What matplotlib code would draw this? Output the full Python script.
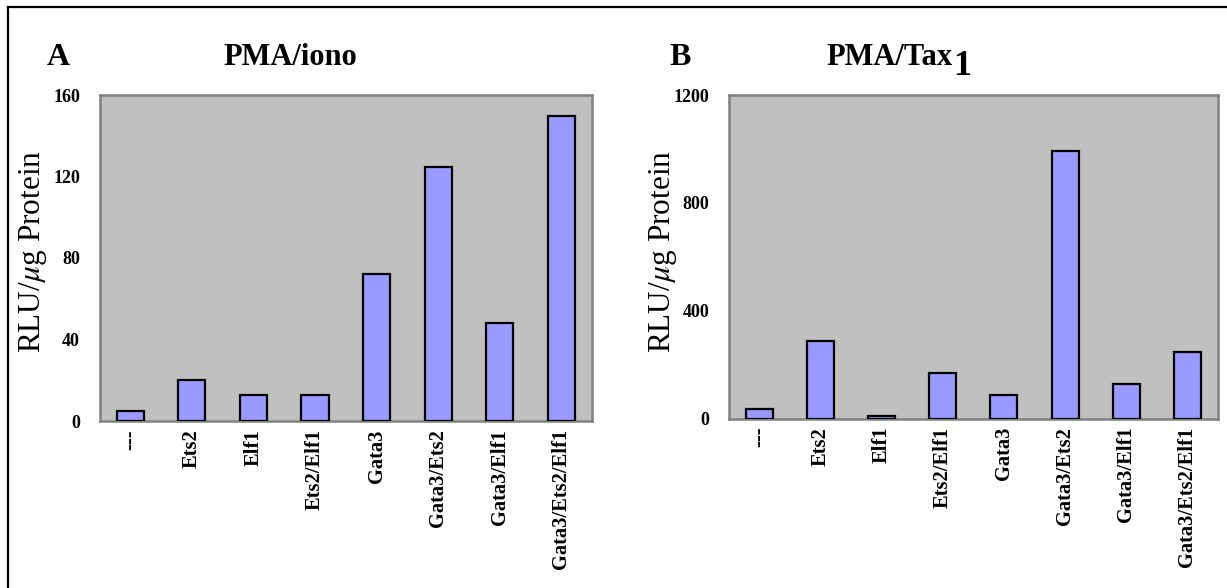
import matplotlib
matplotlib.use("Agg")
import matplotlib.pyplot as plt
from matplotlib.lines import Line2D
import numpy as np

plt.rcParams['font.family'] = ['Liberation Serif', 'DejaVu Serif']
plt.rcParams['mathtext.fontset'] = 'stix'

# data
categories = ['---', 'Ets2', 'Elf1', 'Ets2/Elf1', 'Gata3',
              'Gata3/Ets2', 'Gata3/Elf1', 'Gata3/Ets2/Elf1']
iono_values = [5, 20, 13, 13, 72, 124.5, 48, 149.5]
tax_values = [37, 287, 10, 167, 89, 993, 129, 245]
iono_ticks = [0, 40, 80, 120, 160]
tax_ticks = [0, 400, 800, 1200]

W, H = 1227, 588
fig = plt.figure(figsize=(W / 100, H / 100), dpi=100)
fig.patch.set_facecolor('white')


def px_axes(x0, x1, y0, y1):
    # axes from pixel box (top-left origin)
    return fig.add_axes([x0 / W, 1 - y1 / H, (x1 - x0) / W, (y1 - y0) / H])


def draw_panel(ax, values, ticks):
    x = np.arange(len(categories))
    ax.set_facecolor('#c0c0c0')
    ax.bar(x, values, width=0.44, color='#9999ff', edgecolor='black', linewidth=1.6, zorder=3)
    ax.set_xlim(-0.5, len(categories) - 0.5)
    ax.set_ylim(ticks[0], ticks[-1])
    ax.set_yticks(ticks)
    ax.set_yticklabels([str(t) for t in ticks], fontsize=13, fontweight='bold')
    ax.set_xticks(x)
    ax.set_xticklabels(categories, rotation=90, fontsize=14.8, fontweight='bold')
    ax.tick_params(axis='y', length=0, pad=14)
    ax.tick_params(axis='x', length=0, pad=6)
    for s in ax.spines.values():
        s.set_color('#808080')
        s.set_linewidth(1.8)


ax1 = px_axes(99.5, 592, 95, 421)
draw_panel(ax1, iono_values, iono_ticks)

ax2 = px_axes(728.7, 1218, 95, 418.5)
draw_panel(ax2, tax_values, tax_ticks)

# y labels
ylab = r'RLU/$\mu$g Protein'
fig.text(33 / W, 1 - 252 / H, ylab, rotation=90, fontsize=22.5, ha='center', va='center')
fig.text(663 / W, 1 - 252 / H, ylab, rotation=90, fontsize=22.5, ha='center', va='center')

# panel letters and titles
base = 1 - 65 / H
fig.text(47 / W, base, 'A', fontsize=23, fontweight='bold', ha='left', va='baseline')
fig.text(290 / W, base, 'PMA/iono', fontsize=22, fontweight='bold', ha='center', va='baseline')
fig.text(669 / W, base, 'B', fontsize=23, fontweight='bold', ha='left', va='baseline')
fig.text(953 / W, base, 'PMA/Tax', fontsize=22, fontweight='bold', ha='right', va='baseline')
fig.text(953 / W, 1 - 75 / H, '1', fontsize=26, fontweight='bold', ha='left', va='baseline')

# outer frame (left and top edges only visible)
fig.add_artist(Line2D([8 / W, 8 / W], [0, 1 - 7 / H], color='black', linewidth=1.6))
fig.add_artist(Line2D([8 / W, 1], [1 - 7 / H, 1 - 7 / H], color='black', linewidth=1.6))

fig.savefig('out.png', dpi=100)
